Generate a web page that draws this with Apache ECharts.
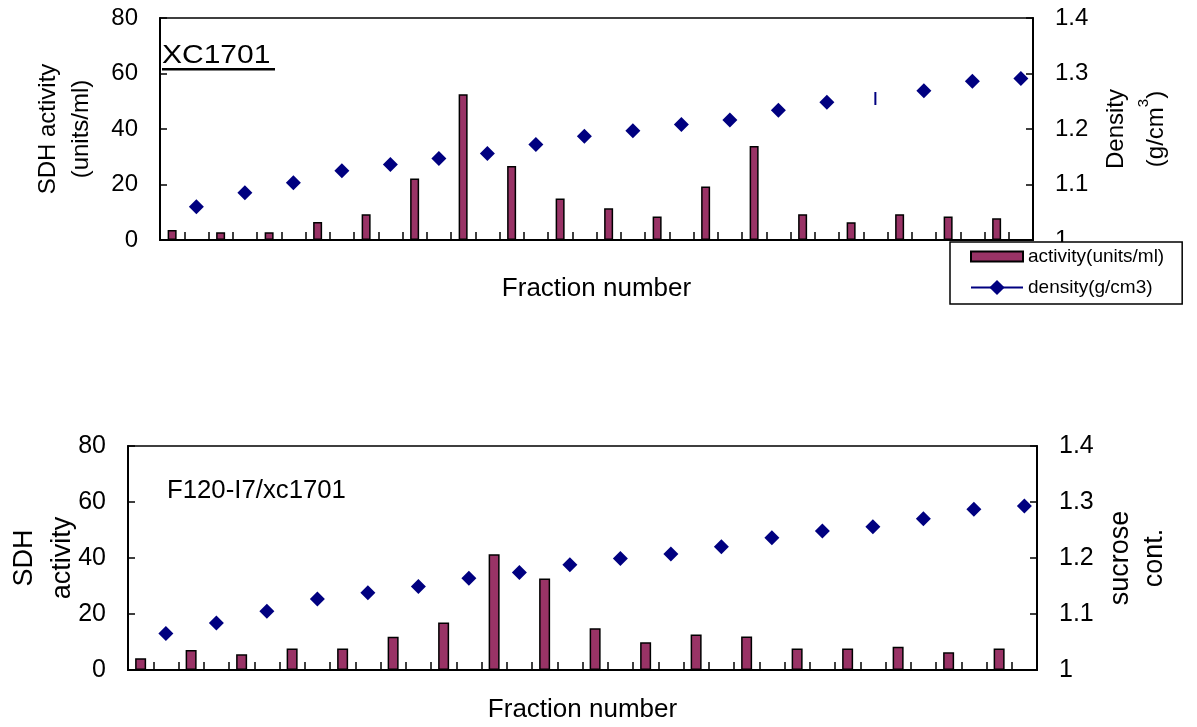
<!DOCTYPE html>
<html lang="en">
<head>
<meta charset="UTF-8">
<title>SDH activity and density</title>
<script src="https://cdn.jsdelivr.net/npm/echarts@6/dist/echarts.min.js"></script>
<style>
    html, body {
        margin: 0;
        padding: 0;
        background: #fff;
    }
    #chart {
        width: 1197px;
        height: 727px;
    }
</style>
</head>
<body>
<div id="chart"></div>
<script>
    // fractions 1..18; every fraction gets two slots on the x axis (activity slot, density slot)
    const fractionNo = [1, 2, 3, 4, 5, 6, 7, 8, 9, 10, 11, 12, 13, 14, 15, 16, 17, 18];

    // XC1701
    const activityTop = [3.6, 2.8, 2.8, 6.5, 9.3, 22.2, 52.5, 26.7, 15.0, 11.4, 8.5, 19.3, 33.9, 9.3, 6.4, 9.3, 8.5, 7.8];
    const densityTop = [1.060, 1.085, 1.103, 1.125, 1.136, 1.147, 1.156, 1.172, 1.187, 1.197, 1.208, 1.216, 1.234, 1.248, 1.255, 1.269, 1.286, 1.291];
    const dashPointTop = 14; // this point is drawn as a short vertical dash in the original

    // F120-I7/xc1701
    const activityBottom = [4.2, 7.1, 5.6, 7.7, 7.7, 11.9, 17.0, 41.3, 32.7, 14.9, 9.9, 12.7, 12.0, 7.7, 7.7, 8.3, 6.3, 7.7];
    const densityBottom = [1.065, 1.084, 1.105, 1.127, 1.138, 1.149, 1.164, 1.174, 1.188, 1.199, 1.207, 1.220, 1.236, 1.248, 1.256, 1.270, 1.287, 1.293];

    const font = 'Liberation Sans, Arial, sans-serif';
    const black = '#000';
    const barColor = '#993366';
    const dotColor = '#000080';

    let slots = [];
    fractionNo.forEach(function (n) {
        slots.push('a' + n, 'd' + n);
    });

    function onBarSlots(vals) {
        let out = [];
        vals.forEach(function (v) { out.push(v, null); });
        return out;
    }

    function onDensitySlots(vals, dashIndex) {
        let out = [];
        vals.forEach(function (v, i) {
            if (i === dashIndex) {
                out.push(null, {value: v, symbol: 'rect', symbolSize: [2, 13]});
            } else {
                out.push(null, v);
            }
        });
        return out;
    }

    function xAxisFor(gridIndex, gap) {
        return {
            type: 'category',
            gridIndex: gridIndex,
            data: slots,
            name: 'Fraction number',
            nameLocation: 'middle',
            nameGap: gap,
            nameMoveOverlap: false,
            nameTextStyle: {fontFamily: font, fontSize: 26, color: black},
            axisLine: {show: true, onZero: false, lineStyle: {color: black, width: 2}},
            axisTick: {show: true, inside: true, length: 8, interval: 0, lineStyle: {color: black, width: 1.5}},
            axisLabel: {show: true, interval: 0, color: 'rgba(0,0,0,0)', fontSize: 1, formatter: function () { return ' '; }},
            splitLine: {show: false}
        };
    }

    function yAxisFor(gridIndex, pos, min, max, step, name, gap, nameSize, lineH, labelSize) {
        return {
            type: 'value',
            gridIndex: gridIndex,
            position: pos,
            min: min,
            max: max,
            interval: step,
            name: name,
            nameLocation: 'middle',
            nameRotate: 90,
            nameGap: gap,
            nameMoveOverlap: false,
            nameTextStyle: {
                fontFamily: font, fontSize: nameSize, lineHeight: lineH, color: black,
                rich: {sup: {fontFamily: font, fontSize: 15, lineHeight: lineH, verticalAlign: 'top', color: black}}
            },
            axisLine: {show: true, lineStyle: {color: black, width: 2}},
            axisTick: {show: true, inside: true, length: 7, lineStyle: {color: black, width: 1.5}},
            axisLabel: {fontFamily: font, fontSize: labelSize, color: black, margin: 22},
            splitLine: {show: false}
        };
    }

    let options = {
        animation: false,
        backgroundColor: '#fff',
        grid: [
            {left: 160, right: 164, top: 18, height: 222, show: true, borderColor: black, borderWidth: 1.5, outerBoundsMode: 'none'},
            {left: 128, right: 160, top: 446, height: 224, show: true, borderColor: black, borderWidth: 1.5, outerBoundsMode: 'none'}
        ],
        xAxis: [xAxisFor(0, 36), xAxisFor(1, 27)],
        yAxis: [
            yAxisFor(0, 'left', 0, 80, 20, 'SDH activity\n(units/ml)', 62, 24, 33, 24),
            yAxisFor(0, 'right', 1, 1.4, 0.1, 'Density\n(g/cm{sup|3})', 63, 24, 40, 24),
            yAxisFor(1, 'left', 0, 80, 20, 'SDH\nactivity', 46, 27, 38, 25),
            yAxisFor(1, 'right', 1, 1.4, 0.1, 'sucrose\ncont.', 67, 27, 34, 25)
        ],
        legend: {
            data: [
                {name: 'activity(units/ml)', icon: 'path://M0,0 L52,0 L52,10 L0,10 Z'},
                {name: 'density(g/cm3)'}
            ],
            orient: 'vertical',
            left: 950,
            top: 242,
            padding: [5, 18, 7, 20],
            itemWidth: 52,
            itemHeight: 19,
            itemGap: 12,
            symbolKeepAspect: true,
            backgroundColor: '#fff',
            borderColor: black,
            borderWidth: 1.5,
            borderRadius: 0,
            textStyle: {fontFamily: font, fontSize: 19, color: black},
            z: 10
        },
        graphic: [
            {type: 'text', left: 162, top: 44, z: 10, scaleX: 1.2,
                style: {text: 'XC1701', font: '25px ' + font, fill: black}},
            {type: 'rect', left: 162, top: 68, z: 10,
                shape: {width: 113, height: 2.5}, style: {fill: black}},
            {type: 'text', left: 167, top: 479, z: 10, scaleX: 1.03,
                style: {text: 'F120-I7/xc1701', font: '25px ' + font, fill: black}}
        ],
        series: [
            {
                name: 'activity(units/ml)',
                type: 'bar',
                xAxisIndex: 0,
                yAxisIndex: 0,
                barWidth: 9,
                data: onBarSlots(activityTop),
                itemStyle: {color: barColor, borderColor: black, borderWidth: 1.5}
            },
            {
                name: 'density(g/cm3)',
                type: 'line',
                xAxisIndex: 0,
                yAxisIndex: 1,
                data: onDensitySlots(densityTop, dashPointTop),
                connectNulls: false,
                showAllSymbol: true,
                symbol: 'diamond',
                symbolSize: 15,
                itemStyle: {color: dotColor},
                lineStyle: {color: dotColor, width: 1.5}
            },
            {
                name: 'activity F120',
                type: 'bar',
                xAxisIndex: 1,
                yAxisIndex: 2,
                barWidth: 11,
                data: onBarSlots(activityBottom),
                itemStyle: {color: barColor, borderColor: black, borderWidth: 1.5}
            },
            {
                name: 'density F120',
                type: 'line',
                xAxisIndex: 1,
                yAxisIndex: 3,
                data: onDensitySlots(densityBottom, -1),
                connectNulls: false,
                showAllSymbol: true,
                symbol: 'diamond',
                symbolSize: 15,
                itemStyle: {color: dotColor},
                lineStyle: {color: dotColor, width: 1.5}
            }
        ]
    };

    let chart = echarts.init(document.getElementById('chart'));
    chart.setOption(options);

    window.addEventListener('resize', function () {
        chart.resize();
    });
</script>
</body>
</html>
